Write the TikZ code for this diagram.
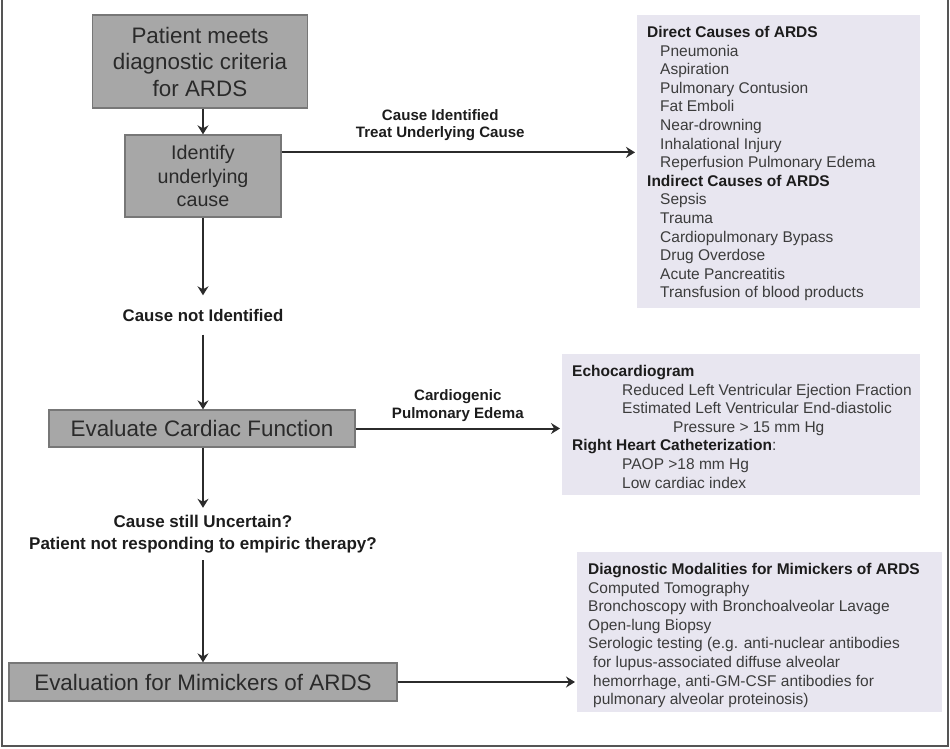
\documentclass[tikz,border=0pt]{standalone}
\usepackage{fontspec}
\setmainfont{Liberation Sans}
\usetikzlibrary{arrows.meta}
\definecolor{boxfill}{HTML}{A7A7A7}
\definecolor{boxline}{HTML}{777777}
\definecolor{boxtext}{HTML}{2A2A2A}
\definecolor{listfill}{HTML}{E8E6F0}
\definecolor{listtext}{HTML}{3C3C3C}
\definecolor{headtext}{HTML}{1C1C1C}
\definecolor{arrowc}{HTML}{2B2B2B}
\definecolor{framec}{HTML}{555555}
\newcommand\fsz[2]{\fontsize{#1}{#2}\selectfont}
\newcommand\hd[1]{\textcolor{headtext}{\textbf{#1}}}
\tikzset{
  mainbox/.style={draw=boxline, line width=1.3pt, fill=boxfill, text=boxtext, align=center, inner sep=0pt},
  listbox/.style={fill=listfill, inner sep=0pt, text=listtext, anchor=north west},
  flow/.style={draw=arrowc, line width=2pt, -{Stealth[length=9pt,width=11pt,inset=3pt]}},
  lbl/.style={text=headtext, align=center, inner sep=0pt}
}
\begin{document}
\begin{tikzpicture}[x=1pt,y=-1pt]
\useasboundingbox (0,0) rectangle (950,748);
\draw[framec, line width=1.5pt] (2,0) -- (2,746) -- (948,746) -- (948,0);

\node[mainbox, minimum width=215pt, minimum height=93pt, font=\fsz{22.4}{26.5}] (b1) at (200,61.5) {Patient meets\\diagnostic criteria\\for ARDS};
\node[mainbox, minimum width=156pt, minimum height=82pt, font=\fsz{19.7}{23.5}] (b2) at (203,176) {Identify\\underlying\\cause};
\node[lbl, minimum height=39pt, font=\bfseries\fsz{16.8}{20}] (cni) at (203,315) {Cause not Identified};
\node[mainbox, minimum width=306pt, minimum height=37pt, font=\fsz{22.4}{26}] (b3) at (202,428.5) {Evaluate Cardiac Function};
\node[lbl, minimum height=52pt, font=\bfseries\fsz{17}{22}] (unc) at (203,534) {Cause still Uncertain?\\Patient not responding to empiric therapy?};
\node[mainbox, minimum width=388pt, minimum height=38pt, font=\fsz{22.4}{26}] (b5) at (203,682) {Evaluation for Mimickers of ARDS};

\node[listbox] (l1) at (637,15) {\parbox[t][293pt][t]{283pt}{\fsz{15.5}{18.6}\raggedright
\vspace*{11pt}\hspace*{10pt}\hd{Direct Causes of ARDS}\\
\hspace*{23pt}Pneumonia\\
\hspace*{23pt}Aspiration\\
\hspace*{23pt}Pulmonary Contusion\\
\hspace*{23pt}Fat Emboli\\
\hspace*{23pt}Near-drowning\\
\hspace*{23pt}Inhalational Injury\\
\hspace*{23pt}Reperfusion Pulmonary Edema\\
\hspace*{10pt}\hd{Indirect Causes of ARDS}\\
\hspace*{23pt}Sepsis\\
\hspace*{23pt}Trauma\\
\hspace*{23pt}Cardiopulmonary Bypass\\
\hspace*{23pt}Drug Overdose\\
\hspace*{23pt}Acute Pancreatitis\\
\hspace*{23pt}Transfusion of blood products}};

\node[listbox] (l2) at (562,354) {\parbox[t][141pt][t]{358pt}{\fsz{15.5}{18.6}\raggedright
\vspace*{11pt}\hspace*{10pt}\hd{Echocardiogram}\\
\hspace*{60pt}Reduced Left Ventricular Ejection Fraction\\
\hspace*{60pt}Estimated Left Ventricular End-diastolic\\
\hspace*{111pt}Pressure > 15 mm Hg\\
\hspace*{10pt}\hd{Right Heart Catheterization}:\\
\hspace*{60pt}PAOP >18 mm Hg\\
\hspace*{60pt}Low cardiac index}};

\node[listbox] (l3) at (577,552) {\parbox[t][160pt][t]{365pt}{\fsz{15.5}{18.6}\raggedright
\vspace*{11pt}\hspace*{11pt}\hd{Diagnostic Modalities for Mimickers of ARDS}\\
\hspace*{11pt}Computed Tomography\\
\hspace*{11pt}Bronchoscopy with Bronchoalveolar Lavage\\
\hspace*{11pt}Open-lung Biopsy\\
\hspace*{11pt}Serologic testing (e.g. anti-nuclear antibodies\\
\hspace*{16pt}for lupus-associated diffuse alveolar\\
\hspace*{16pt}hemorrhage, anti-GM-CSF antibodies for\\
\hspace*{16pt}pulmonary alveolar proteinosis)}};

\draw[flow] (b2.north |- b1.south) -- (b2.north);
\draw[flow] (b2.south) -- (cni.north);
\draw[flow] (cni.south) -- (cni.south |- b3.north);
\draw[flow] (b3.south -| unc.north) -- (unc.north);
\draw[flow] (unc.south) -- (b5.north -| unc.south);

\coordinate (s1) at ([yshift=-18pt]b2.north east);
\draw[flow] (s1) -- node[lbl, pos=0.449, above=11pt, font=\bfseries\fsz{15.1}{17}] (t1) {Cause Identified\\Treat Underlying Cause} ([xshift=-2pt]s1 -| l1.west);
\draw[flow] (b3.east) -- node[lbl, midway, above=6pt, font=\bfseries\fsz{15.1}{18}] (t2) {Cardiogenic\\Pulmonary Edema} ([xshift=-2pt]b3.east -| l2.west);
\draw[flow] (b5.east) -- ([xshift=-2pt]b5.east -| l3.west);
\end{tikzpicture}
\end{document}
